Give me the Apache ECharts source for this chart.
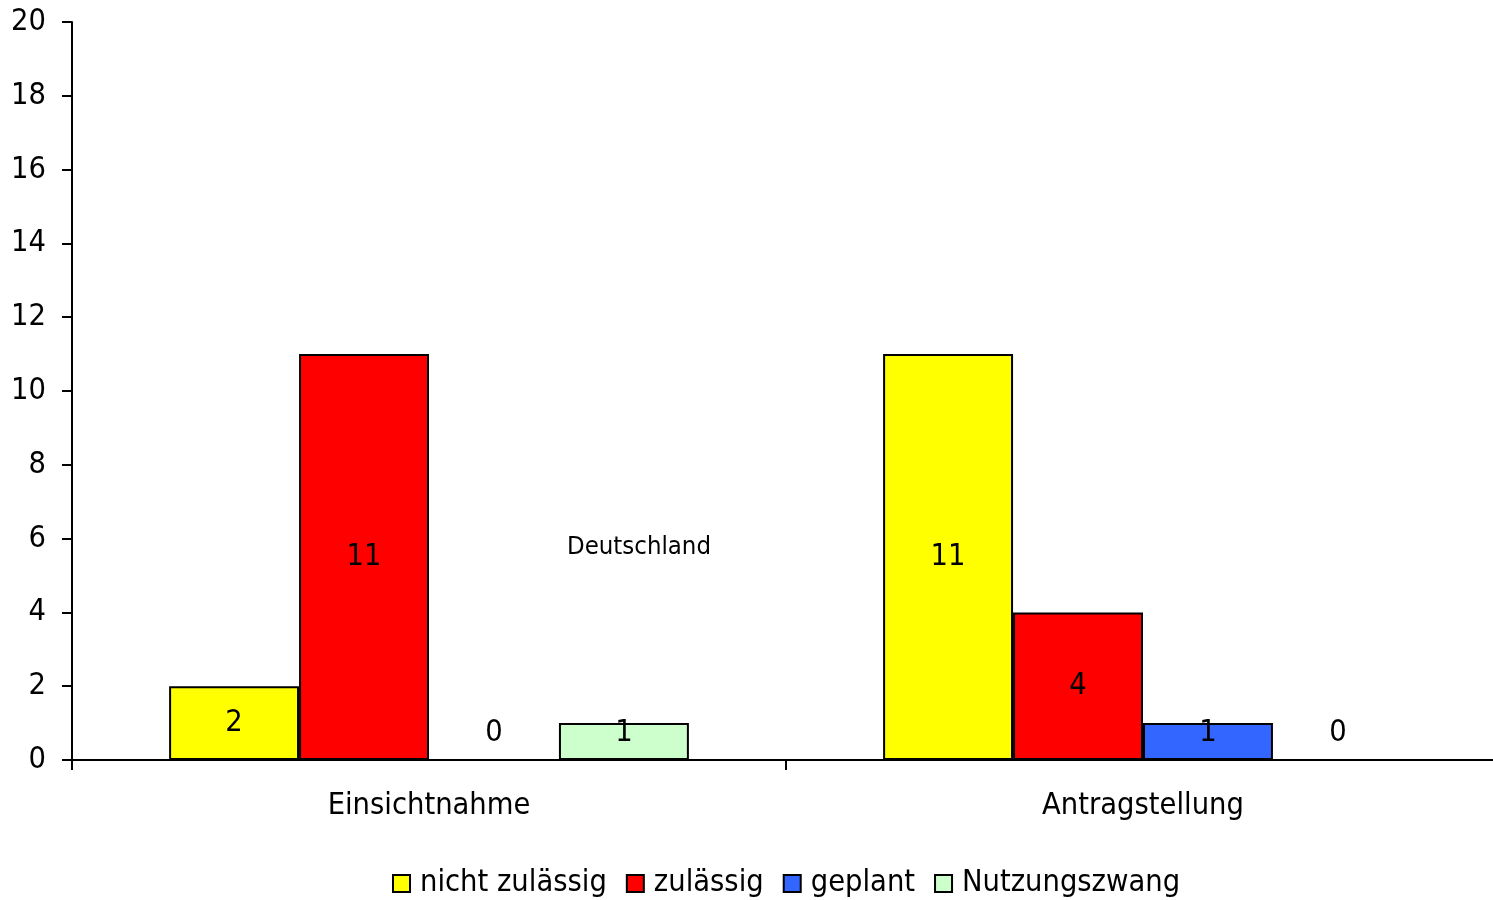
<!DOCTYPE html>
<html><head><meta charset="utf-8">
<script src="https://cdn.jsdelivr.net/npm/echarts@6/dist/echarts.min.js"></script>
<style>html,body{margin:0;padding:0;background:#fff}#c{width:1493px;height:900px}</style>
</head><body><div id="c"></div>
<script>
const categories = ['Einsichtnahme', 'Antragstellung'];
const seriesNames = ['nicht zulässig', 'zulässig', 'geplant', 'Nutzungszwang'];
const nichtZulaessig = [2, 11];
const zulaessig = [11, 4];
const geplant = [0, 1];
const nutzungszwang = [1, 0];
const yTicks = [0, 20, 2];
const colors = ['#FFFF00', '#FF0000', '#3366FF', '#CCFFCC'];
const FONT = '"DejaVu Sans Condensed", "DejaVu Sans", sans-serif';

const allData = [nichtZulaessig, zulaessig, geplant, nutzungszwang];
const chart = echarts.init(document.getElementById('c'));
chart.setOption({
  animation: false,
  textStyle: { fontFamily: FONT, color: '#000' },
  grid: { left: 72, width: 1428, top: 22, bottom: 140, outerBoundsMode: 'none', containLabel: false },
  graphic: [{ type: 'text', left: 567, top: 534, style: { text: 'Deutschland', font: '25.5px ' + FONT, fill: '#000' } }],
  legend: {
    bottom: -4, left: 387, itemWidth: 17, itemHeight: 17, itemGap: 19,
    icon: 'rect',
    textStyle: { fontSize: 30.5, fontFamily: FONT, color: '#000', padding: [0, 0, 0, 5] },
    data: seriesNames
  },
  xAxis: {
    type: 'category', data: categories,
    axisLine: { lineStyle: { color: '#000', width: 2 } },
    axisTick: { show: true, length: 10, lineStyle: { color: '#000', width: 2 } },
    axisLabel: { fontSize: 30.5, color: '#000', margin: 31, fontFamily: FONT }
  },
  yAxis: {
    type: 'value', min: yTicks[0], max: yTicks[1], interval: yTicks[2],
    splitLine: { show: false },
    axisLine: { show: true, lineStyle: { color: '#000', width: 2 } },
    axisTick: { show: true, length: 10, lineStyle: { color: '#000', width: 2 } },
    axisLabel: { fontSize: 30.5, color: '#000', margin: 26, fontFamily: FONT }
  },
  series: seriesNames.map((name, i) => ({
    name, type: 'bar', barGap: '0%', barCategoryGap: '27.2%',
    itemStyle: { color: colors[i], borderColor: '#000', borderWidth: 2 },
    data: allData[i].map(v => v === 0
      ? { value: v, itemStyle: { borderWidth: 0 }, label: { position: 'insideBottom', distance: 11 } }
      : v < 2
        ? { value: v, label: { position: 'insideBottom', distance: 11 } }
        : { value: v }),
    label: { show: true, position: 'inside', fontSize: 30.5, color: '#000', fontFamily: FONT }
  }))
});
</script></body></html>
